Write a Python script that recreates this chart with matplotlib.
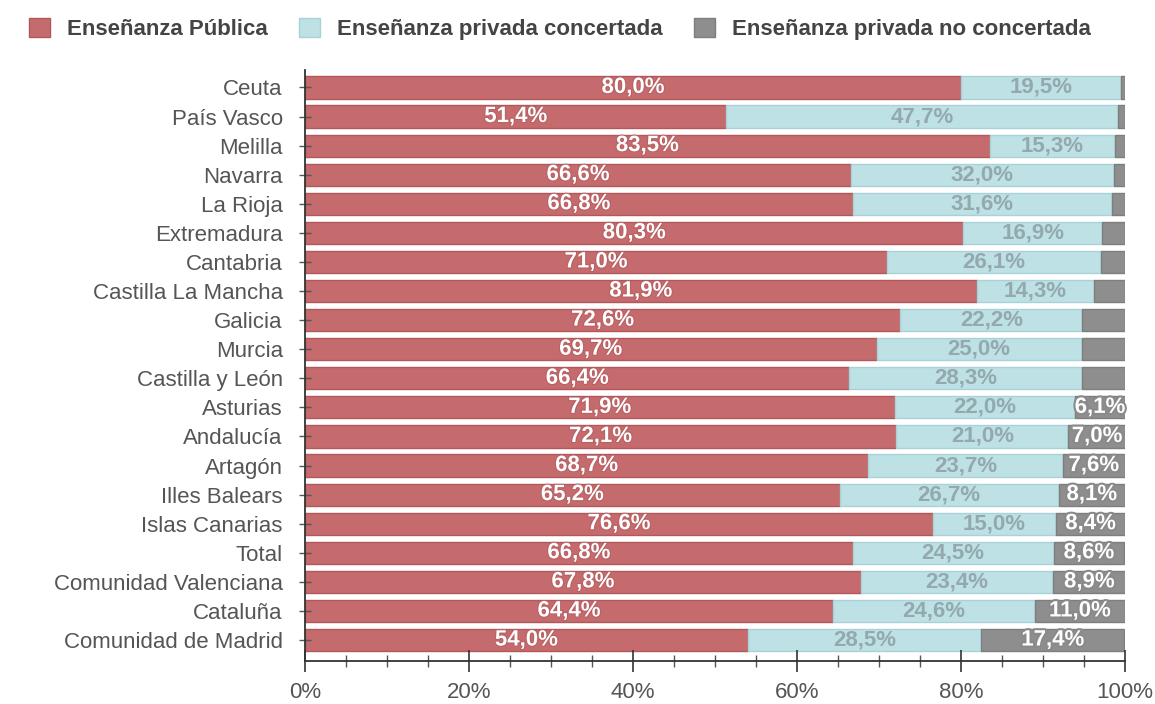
import matplotlib
matplotlib.use("Agg")
import matplotlib.pyplot as plt
import matplotlib.patheffects as pe
from matplotlib.patches import Patch
import numpy as np

plt.rcParams['font.family'] = ['Liberation Sans', 'DejaVu Sans']

categories = ["Ceuta", "País Vasco", "Melilla", "Navarra", "La Rioja", "Extremadura",
              "Cantabria", "Castilla La Mancha", "Galicia", "Murcia", "Castilla y León",
              "Asturias", "Andalucía", "Artagón", "Illes Balears", "Islas Canarias",
              "Total", "Comunidad Valenciana", "Cataluña", "Comunidad de Madrid"]
publica = [80.0, 51.4, 83.5, 66.6, 66.8, 80.3, 71.0, 81.9, 72.6, 69.7, 66.4,
           71.9, 72.1, 68.7, 65.2, 76.6, 66.8, 67.8, 64.4, 54.0]
concertada = [19.5, 47.7, 15.3, 32.0, 31.6, 16.9, 26.1, 14.3, 22.2, 25.0, 28.3,
              22.0, 21.0, 23.7, 26.7, 15.0, 24.5, 23.4, 24.6, 28.5]
no_concertada = [0.5, 0.9, 1.2, 1.4, 1.6, 2.8, 2.9, 3.8, 5.2, 5.3, 5.3,
                 6.1, 7.0, 7.6, 8.1, 8.4, 8.6, 8.9, 11.0, 17.4]
series_names = ["Enseñanza Pública", "Enseñanza privada concertada",
                "Enseñanza privada no concertada"]
xticks = [0, 20, 40, 60, 80, 100]

RED, RED_E = "#c56a6d", "#b2575a"
BLUE, BLUE_E = "#bde1e5", "#a9d2d7"
GRAY, GRAY_E = "#8e8e8e", "#7e7e7e"

fig = plt.figure(figsize=(11.55, 7.04), dpi=100)
ax = fig.add_axes([305/1155, 1-661/704, 820/1155, (661-70)/704])

y = np.arange(len(categories))
pub = np.array(publica)
con = np.array(concertada)
noc = np.array(no_concertada)
h = 0.76
ax.barh(y, pub, height=h, color=RED, edgecolor=RED_E, linewidth=1)
ax.barh(y, con, left=pub, height=h, color=BLUE, edgecolor=BLUE_E, linewidth=1)
ax.barh(y, noc, left=pub+con, height=h, color=GRAY, edgecolor=GRAY_E, linewidth=1)

fs = 16
for i in range(len(categories)):
    ax.text(pub[i]/2, y[i], f"{pub[i]:.1f}%".replace(".", ","), ha="center", va="center",
            fontsize=fs, fontweight="bold", color="white",
            path_effects=[pe.withStroke(linewidth=1.5, foreground="#b86063")])
    ax.text(pub[i]+con[i]/2, y[i], f"{con[i]:.1f}%".replace(".", ","), ha="center", va="center",
            fontsize=fs, fontweight="bold", color="#93a9ad")
    if noc[i] >= 6:
        ax.text(pub[i]+con[i]+noc[i]/2, y[i], f"{noc[i]:.1f}%".replace(".", ","), ha="center",
                va="center", fontsize=fs, fontweight="bold", color="white",
                path_effects=[pe.withStroke(linewidth=3, foreground="#8a8a8a")])

ax.set_xlim(0, 100)
ax.set_ylim(19.72, -0.6)
ax.set_yticks(y)
ax.set_yticklabels(categories)
ax.set_xticks(xticks)
ax.set_xticklabels([f"{v}%" for v in xticks])
ax.set_xticks(np.arange(0, 101, 5), minor=True)

for s in ["top", "right"]:
    ax.spines[s].set_visible(False)
for s in ["left", "bottom"]:
    ax.spines[s].set_color("#333333")
    ax.spines[s].set_linewidth(1.3)

ax.tick_params(axis="y", direction="inout", length=8, width=1, color="#555555",
               labelsize=fs, labelcolor="#555555", pad=12)
ax.tick_params(axis="x", which="major", direction="inout", length=16, width=1.2,
               color="#333333", labelsize=fs, labelcolor="#555555", pad=7)
ax.tick_params(axis="x", which="minor", direction="inout", length=9, width=1,
               color="#555555")

handles = [Patch(facecolor=RED, edgecolor=RED_E),
           Patch(facecolor=BLUE, edgecolor=BLUE_E),
           Patch(facecolor=GRAY, edgecolor=GRAY_E)]
leg = fig.legend(handles, series_names, loc="center left",
                 bbox_to_anchor=(29/1155, 1-29/704), ncol=3, frameon=False,
                 borderpad=0, borderaxespad=0, handlelength=0.95, handleheight=0.95,
                 handletextpad=0.77, columnspacing=1.4,
                 prop={"size": fs, "weight": "bold"})
for t in leg.get_texts():
    t.set_color("#444444")

fig.savefig("out.png", dpi=100, facecolor="white")
